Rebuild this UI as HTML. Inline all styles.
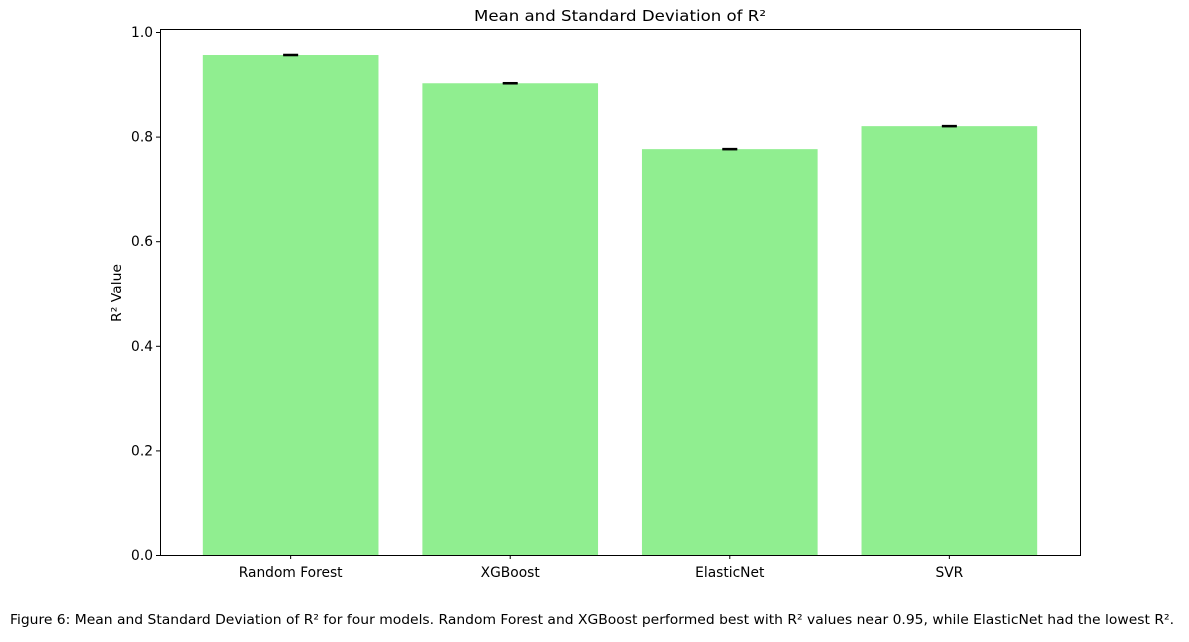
<!DOCTYPE html>
<html><head><meta charset="utf-8"><style>
body{margin:0;background:#fff;width:1189px;height:637px;overflow:hidden}
svg text{font-family:"DejaVu Sans","Liberation Sans",sans-serif;fill:#000}
</style></head><body>
<svg id="chart" width="1189" height="637" xmlns="http://www.w3.org/2000/svg">
<text x="620" y="21" font-size="15" text-anchor="middle" textLength="292" lengthAdjust="spacingAndGlyphs">Mean and Standard Deviation of R²</text>
<g id="bars"></g>
<g id="axes"></g>
<rect x="160.5" y="29.5" width="920" height="526" fill="none" stroke="#000" stroke-width="1"/>
<text transform="translate(121,293) rotate(-90)" font-size="13" text-anchor="middle" textLength="58" lengthAdjust="spacingAndGlyphs">R² Value</text>
<text x="592" y="624" font-size="13" text-anchor="middle" textLength="1164" lengthAdjust="spacingAndGlyphs">Figure 6: Mean and Standard Deviation of R² for four models. Random Forest and XGBoost performed best with R² values near 0.95, while ElasticNet had the lowest R².</text>
</svg>
<script>
const categories=["Random Forest","XGBoost","ElasticNet","SVR"];
const means=[0.956,0.902,0.776,0.820];
const stds=[0.001,0.001,0.001,0.001];
const yTicks=[0,0.2,0.4,0.6,0.8,1.0];
const yTickLabels=["0.0","0.2","0.4","0.6","0.8","1.0"];
const NS="http://www.w3.org/2000/svg";
const x0=160,x1=1080,yb=555;
const xs=i=>x0+(i+0.595)*(x1-x0)/4.19;
const ys=v=>yb-v*523;
const bw=0.8*(x1-x0)/4.19;
const bars=document.getElementById('bars'),axes=document.getElementById('axes');
function mk(t,a,p){const e=document.createElementNS(NS,t);for(const k in a)e.setAttribute(k,a[k]);p.appendChild(e);return e;}
categories.forEach((c,i)=>{
 const r=mk('rect',{x:xs(i)-bw/2,y:ys(means[i]),width:bw,height:yb-ys(means[i]),fill:'#90ee90'},bars);
 
 
 const e1=ys(means[i]+stds[i]),e2=ys(means[i]-stds[i]);
 const l=mk('line',{x1:xs(i),x2:xs(i),y1:e1,y2:e2,stroke:'#000','stroke-width':1.5},bars);
 
 
 for(const yy of [e1,e2]){const cp=mk('line',{x1:xs(i)-7.5,x2:xs(i)+7.5,y1:yy,y2:yy,stroke:'#000','stroke-width':1.5},bars);
 
 }
 const tk=mk('line',{x1:xs(i),x2:xs(i),y1:yb,y2:yb+4,stroke:'#000'},axes);
 
 
 const t=mk('text',{x:xs(i),y:yb+22,'font-size':13.8,'text-anchor':'middle'},axes);t.textContent=c;
 
 
});
yTicks.forEach((v,i)=>{
 const tk=mk('line',{x1:x0-4,x2:x0,y1:ys(v)+0.5,y2:ys(v)+0.5,stroke:'#000'},axes);
 
 
 const t=mk('text',{x:x0-7,y:ys(v)+5,'font-size':13.8,'text-anchor':'end'},axes);t.textContent=yTickLabels[i];
 
 
});
</script>
</body></html>
